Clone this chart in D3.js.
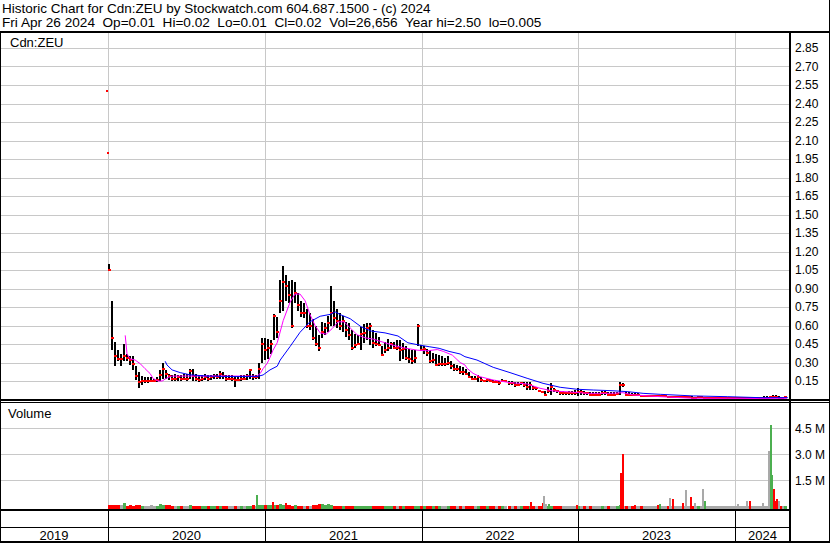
<!DOCTYPE html>
<html><head><meta charset="utf-8">
<script src="https://cdn.jsdelivr.net/npm/d3@7/dist/d3.min.js"></script>
<style>
body{margin:0;background:#fff}
svg{display:block}
text{font-family:"Liberation Sans",Arial,sans-serif;white-space:pre}
</style>
</head><body><svg id="c" width="830" height="543"></svg>
<script>
// ---------------- DATA ----------------
const titleLine1 = "Historic Chart for Cdn:ZEU by Stockwatch.com 604.687.1500 - (c) 2024";
const titleLine2 = "Fri Apr 26 2024  Op=0.01  Hi=0.02  Lo=0.01  Cl=0.02  Vol=26,656  Year hi=2.50  lo=0.005";
const symbolLabel = "Cdn:ZEU";
const volumeLabel = "Volume";
const priceTicks = [0.15,0.30,0.45,0.60,0.75,0.90,1.05,1.20,1.35,1.50,1.65,1.80,1.95,2.10,2.25,2.40,2.55,2.70,2.85];
const volTicks = [1.5,3.0,4.5];           // millions
const yearLabels = ["2019","2020","2021","2022","2023","2024"];
const domainStart = "2019-04-24", domainEnd = "2024-05-08";

// first isolated trades
const earlyDates  = ["2019-12-30","2019-12-31"];
const earlyPrices = [2.50, 2.00];

// weekly bars starting at this Friday, one entry per week
const firstWeek = "2020-01-03";
const weekHigh = [
1.10,0.80,0.47,0.40,0.37,0.45,0.37,0.35,0.35,0.27, 0.22,0.19,0.18,0.18,0.18,0.17,0.18,0.24,0.30,0.24,
0.21,0.20,0.21,0.20,0.20,0.21,0.21,0.245,0.245,0.21, 0.20,0.20,0.21,0.20,0.20,0.21,0.21,0.23,0.22,0.20,
0.20,0.20,0.19,0.19,0.20,0.20,0.21,0.245,0.21,0.20, 0.30,0.50,0.50,0.49,0.48,0.69,0.67,0.97,1.08,1.01,
0.96,0.97,0.95,0.86,0.80,0.78,0.73,0.70,0.65,0.60, 0.52,0.63,0.62,0.68,0.92,0.80,0.73,0.70,0.68,0.63,
0.62,0.56,0.53,0.52,0.59,0.61,0.62,0.62,0.56,0.54, 0.51,0.43,0.47,0.49,0.47,0.47,0.48,0.48,0.46,0.43,
0.41,0.40,0.40,0.61,0.44,0.43,0.41,0.40,0.38,0.37, 0.36,0.35,0.34,0.35,0.31,0.29,0.28,0.27,0.26,0.25,
0.22,0.19,0.19,0.20,0.18,0.16,0.17,0.17,0.16,0.16, 0.15,0.17,0.16,0.15,0.15,0.14,0.14,0.14,0.14,0.14,
0.14,0.11,0.10,0.08,0.07,0.07,0.10,0.13,0.09,0.08, 0.07,0.07,0.06,0.07,0.07,0.08,0.09,0.08,0.07,0.06,
0.06,0.06,0.06,0.06,0.07,0.07,0.06,0.06,0.06,0.06, 0.14,0.13,0.06,0.06,0.05,0.05,0.05,0.04,0.04,0.04,
0.04,0.04,0.04,0.04,0.04,0.035,0.03,0.03,0.025,0.025, 0.03,0.03,0.025,0.025,0.025,0.02,0.025,0.025,0.02,0.02,
0.02,0.02,0.02,0.02,0.02,0.02,0.02,0.02,0.02,0.02, 0.02,0.02,0.02,0.02,0.02,0.02,0.02,0.02,0.025,0.025,
0.03,0.04,0.035,0.025,0.02,0.02];
const weekLow = [
1.05,0.40,0.27,0.31,0.27,0.31,0.31,0.28,0.24,0.16, 0.09,0.12,0.13,0.13,0.14,0.14,0.14,0.15,0.17,0.17,
0.16,0.15,0.15,0.15,0.15,0.16,0.15,0.17,0.15,0.15, 0.145,0.15,0.16,0.15,0.16,0.17,0.165,0.17,0.17,0.15,
0.16,0.15,0.10,0.15,0.15,0.155,0.16,0.17,0.16,0.165, 0.17,0.30,0.32,0.33,0.37,0.48,0.50,0.70,0.72,0.80,
0.78,0.58,0.78,0.72,0.67,0.66,0.58,0.56,0.48,0.43, 0.39,0.50,0.52,0.55,0.60,0.60,0.58,0.56,0.55,0.51,
0.48,0.40,0.42,0.44,0.40,0.46,0.48,0.44,0.42,0.43, 0.43,0.35,0.38,0.39,0.41,0.41,0.40,0.31,0.33,0.32,
0.30,0.29,0.30,0.43,0.39,0.37,0.35,0.30,0.30,0.27, 0.27,0.27,0.27,0.28,0.25,0.23,0.23,0.21,0.20,0.20,
0.19,0.16,0.16,0.14,0.14,0.14,0.14,0.14,0.13,0.13, 0.12,0.14,0.14,0.12,0.12,0.10,0.12,0.12,0.10,0.08,
0.08,0.08,0.08,0.06,0.05,0.04,0.05,0.04,0.06,0.05, 0.04,0.04,0.04,0.04,0.04,0.04,0.03,0.04,0.04,0.04,
0.035,0.035,0.03,0.03,0.035,0.04,0.03,0.03,0.035,0.035, 0.04,0.10,0.03,0.03,0.03,0.03,0.03,0.02,0.02,0.02,
0.02,0.02,0.02,0.02,0.02,0.02,0.015,0.015,0.015,0.015, 0.015,0.015,0.015,0.015,0.01,0.01,0.015,0.015,0.01,0.01,
0.01,0.01,0.01,0.01,0.01,0.01,0.01,0.01,0.01,0.01, 0.01,0.01,0.01,0.01,0.01,0.01,0.01,0.01,0.01,0.01,
0.01,0.015,0.015,0.01,0.01,0.01];
const weekClose = [
1.05,0.50,0.35,0.33,0.33,0.35,0.34,0.32,0.29,0.19, 0.14,0.15,0.15,0.15,0.15,0.15,0.16,0.20,0.25,0.21,
0.19,0.17,0.17,0.18,0.17,0.17,0.17,0.23,0.19,0.17, 0.16,0.17,0.18,0.17,0.18,0.19,0.18,0.21,0.19,0.17,
0.17,0.17,0.16,0.16,0.17,0.17,0.19,0.24,0.18,0.18, 0.25,0.45,0.40,0.42,0.45,0.68,0.55,0.80,0.95,0.92,
0.85,0.60,0.86,0.77,0.70,0.70,0.60,0.60,0.50,0.45, 0.42,0.55,0.58,0.62,0.70,0.66,0.64,0.60,0.64,0.56,
0.52,0.42,0.44,0.45,0.53,0.54,0.58,0.60,0.46,0.45, 0.44,0.36,0.40,0.42,0.45,0.42,0.42,0.40,0.41,0.34,
0.33,0.31,0.34,0.60,0.40,0.41,0.38,0.31,0.32,0.28, 0.29,0.29,0.29,0.30,0.27,0.25,0.25,0.22,0.22,0.21,
0.18,0.17,0.17,0.18,0.16,0.15,0.16,0.15,0.14,0.14, 0.13,0.15,0.15,0.13,0.13,0.12,0.12,0.13,0.12,0.10,
0.12,0.09,0.09,0.07,0.06,0.04,0.07,0.10,0.08,0.07, 0.05,0.05,0.05,0.05,0.05,0.05,0.06,0.06,0.05,0.05,
0.04,0.04,0.04,0.04,0.05,0.05,0.04,0.04,0.04,0.045, 0.12,0.12,0.04,0.04,0.035,0.035,0.035,0.025,0.025,0.025,
0.025,0.025,0.025,0.025,0.025,0.025,0.02,0.02,0.02,0.02, 0.02,0.02,0.02,0.02,0.015,0.015,0.02,0.02,0.015,0.015,
0.015,0.015,0.015,0.015,0.015,0.015,0.015,0.015,0.015,0.015, 0.015,0.015,0.015,0.015,0.015,0.015,0.015,0.015,0.015,0.015,
0.02,0.02,0.02,0.015,0.015,0.02];
// weekly volume, millions
const weekVolume = [
.06,.08,.10,.07,.06,.18,.05,.08,.05,.07, .09,.05,.04,.05,.06,.04,.05,.14,.06,.09,
.08,.04,.03,.04,.05,.04,.05,.06,.04,.03, .03,.04,.03,.03,.05,.03,.04,.03,.03,.04,
.03,.03,.04,.03,.03,.05,.05,.04,.06,.05, .08,.10,.08,.09,.10,.08,.08,.14,.10,.09,
.07,.05,.06,.05,.04,.04,.03,.05,.08,.10, .12,.14,.10,.12,.08,.04,.03,.03,.03,.03,
.02,.02,.03,.02,.02,.03,.02,.02,.03,.02, .02,.03,.02,.02,.02,.03,.05,.02,.02,.03,
.02,.03,.02,.02,.03,.02,.02,.03,.02,.02, .03,.02,.02,.02,.03,.03,.02,.02,.03,.02,
.02,.02,.03,.02,.02,.03,.02,.02,.03,.02, .02,.02,.03,.02,.02,.03,.02,.03,.03,.02,
.04,.03,.03,.03,.05,.06,.04,.03,.02,.03, .02,.02,.03,.02,.02,.03,.04,.02,.02,.03,
.02,.02,.02,.03,.02,.02,.02,.03,.02,.03, .06,.05,.03,.02,.03,.02,.02,.03,.02,.02,
.03,.02,.03,.04,.03,.02,.03,.03,.02,.03, .03,.03,.02,.03,.03,.02,.03,.02,.02,.03,
.02,.02,.03,.02,.02,.03,.02,.02,.03,.04, .03,.02,.04,.03,.02,.03,.02,.03,.03,.04,
.08,.10,.06,.05,.04,.03];
// individual large volume days (millions) and price direction of the day
const spikeDates = ["2020-12-14","2021-01-19","2021-02-19","2022-09-12","2022-10-10","2022-10-13","2022-10-17","2022-10-24",
 "2022-12-28","2023-04-11","2023-04-14","2023-05-12","2023-07-05","2023-07-10","2023-08-02","2023-08-10","2023-09-01",
 "2023-09-08","2023-09-20","2023-09-29","2023-10-18","2023-10-23","2024-01-08","2024-01-29","2024-02-05","2024-03-06",
 "2024-03-19","2024-03-21","2024-03-25","2024-03-27","2024-04-01","2024-04-03","2024-04-08","2024-04-12","2024-04-17"];
const spikeVolumes = [0.66,0.26,0.20,0.26,0.22,0.61,0.15,0.15, 0.08,1.95,3.03,0.08,0.08,0.15,0.49,0.43,0.18,
 0.93,0.53,0.20,1.00,0.32,0.14,0.32,0.32,0.18, 0.26,3.20,4.70,1.82,1.00,0.32,0.41,0.32,0.05];
const spikeDirs = ["up","down","down","down","down","flat","flat","up", "down","down","down","down","down","up","flat","down","down",
 "flat","down","flat","flat","up","flat","flat","down","flat", "flat","flat","up","up","down","down","down","flat","down"];

// moving averages (position in weeks from firstWeek, value)
const fastMaWeek = [5.4,6,7,8.7,10.4,12,13.7,14.7,16.3,17.7,19.3,21,26,30.3,36,41.3,47,49.3,50.3,51.3,52.6,53.6,54.6,56,58,
 60.3,61.9,63.6,65.3,66.9,68.6,70.3,72.3,74.3,76.3,78.3,80.3,82.6,85.3,87.9,91.2,94.6,97.9,100.2,102.6,105.9,109.3,111.3,
 114.3,116.9,118.5,119.2,121.2,123.5,127.9,133.5,139.2,143.5,147.8,153.5,159.2,166.8,171.1,174.5,183.5,194.5,205.8,216.7,225.7];
const fastMaVal = [0.52,0.37,0.33,0.32,0.29,0.25,0.21,0.17,0.15,0.15,0.175,0.19,0.19,0.19,0.19,0.19,0.19,0.19,0.21,0.25,
 0.29,0.34,0.40,0.46,0.64,0.79,0.855,0.855,0.80,0.69,0.60,0.54,0.53,0.575,0.63,0.63,0.58,0.525,0.50,0.49,0.465,0.44,0.42,
 0.41,0.40,0.395,0.405,0.39,0.36,0.30,0.28,0.253,0.212,0.185,0.158,0.137,0.126,0.091,0.069,0.061,0.050,0.050,0.055,0.037,
 0.023,0.010,0.010,0.008,0.010];
const slowMaWeek = [18.7,19.3,21,23.7,27,32.7,41.3,49.3,51.3,53.6,56,57,60.3,63.6,66.9,70.3,73.6,75.3,77.3,80.3,83.9,87.3,
 91.9,96.2,99.5,103.2,106.6,109.9,113.2,116.9,118.5,122.5,127.9,133.5,139.2,144.5,150.2,155.8,161.2,166.8,172.5,177.8,
 183.5,194.5,205.8,216.7,226];
const slowMaVal = [0.31,0.28,0.24,0.218,0.20,0.19,0.186,0.186,0.199,0.24,0.27,0.32,0.43,0.545,0.63,0.675,0.69,0.71,0.685,
 0.655,0.59,0.555,0.54,0.515,0.46,0.442,0.428,0.415,0.39,0.369,0.347,0.32,0.261,0.218,0.172,0.131,0.099,0.083,0.077,0.072,
 0.064,0.050,0.042,0.029,0.023,0.015,0.015];

// ---------------- DRAWING ----------------
const W = 830, H = 543;
const plotRight = 790;
const priceTop = 33, priceBottom = 399.5;
const volTop = 403, volBottom = 509;
const parse = d3.utcParse("%Y-%m-%d");
const t0 = parse(firstWeek);
const weekToDate = k => new Date(t0.getTime() + k * 7 * 864e5);

const svg = d3.select("#c");
const x = d3.scaleUtc().domain([parse(domainStart), parse(domainEnd)]).range([0, plotRight]);
const y = d3.scaleLinear().domain([0, 2.85]).range([399.5, 48]);
const yv = d3.scaleLinear().domain([0, 4.5]).range([506.5, 428.3]);

const gridCol = "#c8c8c8";
svg.append("rect").attr("width", W).attr("height", H).attr("fill", "#fff");

const yearStarts = d3.utcYear.range(parse("2020-01-01"), parse("2024-12-31"));
const yearBounds = [0].concat(yearStarts.map(d => Math.round(x(d)))).concat([plotRight]);

// price grid
const g = svg.append("g").attr("shape-rendering", "crispEdges");
g.selectAll(".hp").data(priceTicks).join("line")
  .attr("x1", 0).attr("x2", plotRight)
  .attr("y1", d => Math.round(y(d)) + 0.5).attr("y2", d => Math.round(y(d)) + 0.5)
  .attr("stroke", gridCol);
g.selectAll(".vp").data(yearStarts).join("line")
  .attr("x1", d => Math.round(x(d)) + 0.5).attr("x2", d => Math.round(x(d)) + 0.5)
  .attr("y1", priceTop).attr("y2", priceBottom).attr("stroke", gridCol);
// volume grid
g.selectAll(".hv").data(volTicks).join("line")
  .attr("x1", 0).attr("x2", plotRight)
  .attr("y1", d => Math.round(yv(d)) + 0.5).attr("y2", d => Math.round(yv(d)) + 0.5)
  .attr("stroke", gridCol);
g.selectAll(".vv").data(yearStarts).join("line")
  .attr("x1", d => Math.round(x(d)) + 0.5).attr("x2", d => Math.round(x(d)) + 0.5)
  .attr("y1", volTop).attr("y2", volBottom).attr("stroke", gridCol);

// weekly bars
const weeks = weekHigh.map((h, k) => ({k, date: weekToDate(k), h, l: weekLow[k], c: weekClose[k],
  v: weekVolume[k], dir: k === 0 ? "down" : (weekClose[k] > weekClose[k-1] ? "up" : (weekClose[k] < weekClose[k-1] ? "down" : "flat"))}));

const volCol = {up: "#4caf50", down: "#ff0000", flat: "#a9a9a9"};
const vg = svg.append("g").attr("shape-rendering", "crispEdges");
vg.selectAll(".wv").data(weeks).join("rect")
  .attr("x", d => Math.round(x(d.date)) - 1).attr("width", 3)
  .attr("y", d => Math.round(yv(d.v))).attr("height", d => volBottom - Math.round(yv(d.v)))
  .attr("fill", d => volCol[d.dir]);
const spikes = spikeDates.map((s, i) => ({date: parse(s), v: spikeVolumes[i], dir: spikeDirs[i]}));
vg.selectAll(".sv").data(spikes).join("rect")
  .attr("x", d => Math.round(x(d.date)) - 1).attr("width", 2)
  .attr("y", d => Math.round(yv(d.v))).attr("height", d => volBottom - Math.round(yv(d.v)))
  .attr("fill", d => volCol[d.dir]);

const pg = svg.append("g").attr("shape-rendering", "crispEdges");
pg.selectAll(".bar").data(weeks).join("rect")
  .attr("x", d => Math.round(x(d.date)) - 1).attr("width", 2)
  .attr("y", d => Math.round(y(d.h)))
  .attr("height", d => Math.max(1, Math.round(y(d.l)) - Math.round(y(d.h))))
  .attr("fill", "#000");
pg.selectAll(".cl").data(weeks).join("rect")
  .attr("x", d => Math.round(x(d.date)) - 1).attr("width", 3)
  .attr("y", d => Math.round(y(d.c)) - 1).attr("height", 2)
  .attr("fill", "#ff0000");
pg.selectAll(".early").data(earlyDates.map((s, i) => ({date: parse(s), p: earlyPrices[i]}))).join("rect")
  .attr("x", d => Math.round(x(d.date)) - 1).attr("width", 2)
  .attr("y", d => Math.round(y(d.p)) - 1).attr("height", 2)
  .attr("fill", "#ff0000");

// moving averages
const line = d3.line().x(d => x(weekToDate(d[0]))).y(d => y(d[1]));
svg.append("path").datum(fastMaWeek.map((k, i) => [k, fastMaVal[i]]))
  .attr("d", line).attr("fill", "none").attr("stroke", "#ff00ff").attr("stroke-width", 1);
svg.append("path").datum(slowMaWeek.map((k, i) => [k, slowMaVal[i]]))
  .attr("d", line).attr("fill", "none").attr("stroke", "#0000ff").attr("stroke-width", 1);

// frame lines
const f = svg.append("g").attr("shape-rendering", "crispEdges").attr("fill", "#000");
f.append("rect").attr("x", 0).attr("y", 31).attr("width", W).attr("height", 2);       // top
f.append("rect").attr("x", 0).attr("y", 399).attr("width", W).attr("height", 2);      // price bottom
f.append("rect").attr("x", 0).attr("y", 402).attr("width", W).attr("height", 1);      // volume top
f.append("rect").attr("x", 0).attr("y", 509).attr("width", plotRight).attr("height", 2); // volume bottom
f.append("rect").attr("x", 0).attr("y", 527).attr("width", plotRight).attr("height", 1); // year row
f.append("rect").attr("x", 0).attr("y", 541).attr("width", W).attr("height", 2);      // bottom
f.append("rect").attr("x", plotRight - 1).attr("y", 31).attr("width", 2).attr("height", H - 31); // right axis
f.append("rect").attr("x", 0).attr("y", 31).attr("width", 1).attr("height", H - 31);  // left
f.append("rect").attr("x", W - 1).attr("y", 0).attr("width", 1).attr("height", H);    // right edge
f.selectAll(".ys").data(yearStarts).join("rect")
  .attr("x", d => Math.round(x(d))).attr("width", 1)
  .attr("y", 511).attr("height", 30);

// texts
svg.append("text").attr("x", 2).attr("y", 13).attr("font-size", 13.5).text(titleLine1);
svg.append("text").attr("x", 2).attr("y", 27).attr("font-size", 13.6).text(titleLine2);
svg.append("text").attr("x", 10).attr("y", 47).attr("font-size", 13).text(symbolLabel);
svg.append("text").attr("x", 8).attr("y", 418).attr("font-size", 13).text(volumeLabel);

svg.selectAll(".pt").data(priceTicks).join("text")
  .attr("x", 795).attr("y", d => y(d)).attr("dy", "0.36em").attr("font-size", 12)
  .text(d => d.toFixed(2));
svg.selectAll(".vt").data(volTicks).join("text")
  .attr("x", 795).attr("y", d => yv(d)).attr("dy", "0.36em").attr("font-size", 12)
  .text(d => d.toFixed(1) + " M");

svg.selectAll(".yl").data(yearLabels).join("text")
  .attr("x", (d, i) => (yearBounds[i] + yearBounds[i + 1]) / 2)
  .attr("y", 540).attr("text-anchor", "middle").attr("font-size", 13)
  .text(d => d);
</script>
</body></html>
